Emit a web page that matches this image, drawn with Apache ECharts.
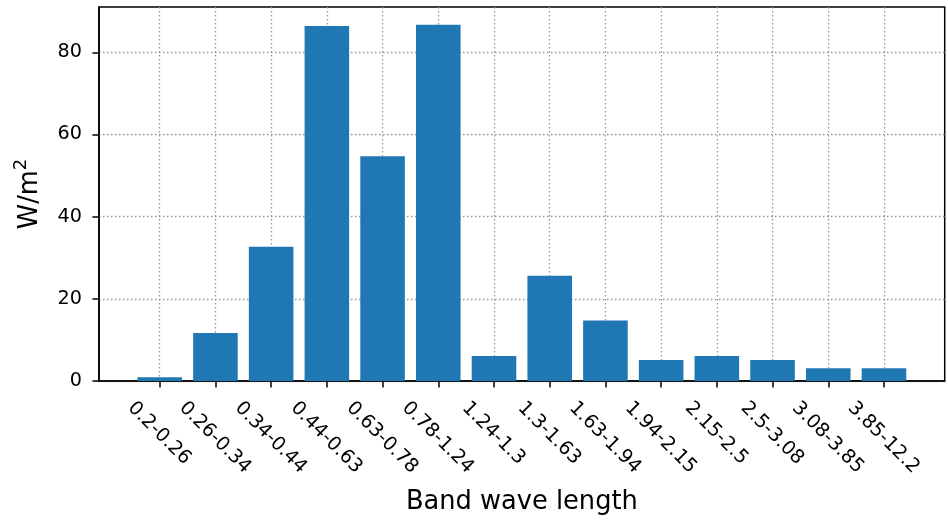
<!DOCTYPE html>
<html>
<head>
<meta charset="utf-8">
<script src="https://cdn.jsdelivr.net/npm/echarts@6/dist/echarts.min.js"></script>
<style>
html,body{margin:0;padding:0;background:#fff;}
#chart{width:948px;height:520px;}
</style>
</head>
<body>
<div id="chart"></div>
<script>
// ---- data ----
const categories = ['0.2-0.26','0.26-0.34','0.34-0.44','0.44-0.63','0.63-0.78','0.78-1.24','1.24-1.3','1.3-1.63','1.63-1.94','1.94-2.15','2.15-2.5','2.5-3.08','3.08-3.85','3.85-12.2'];
const values = [0.9, 11.7, 32.7, 86.4, 54.7, 86.7, 6.1, 25.6, 14.7, 5.1, 6.1, 5.1, 3.1, 3.1];
const yTicks = [0, 20, 40, 60, 80];
const xTitle = 'Band wave length';

// ---- helpers ----
const FONT = '"DejaVu Sans", sans-serif';
const LABEL_SIZE = 19.2;
const TITLE_SIZE = 25.7;
const measureCtx = document.createElement('canvas').getContext('2d');
measureCtx.font = LABEL_SIZE + 'px ' + FONT;
function textWidth(t){ return measureCtx.measureText(t).width; }

const xIdx = categories.map((c, i) => i);
const barData = values.map((v, i) => [i, v]);
const labelData = categories.map((c, i) => [i, 0]);
const xMin = -0.4 - 0.05 * (categories.length - 1 + 0.8);
const xMax = categories.length - 1 + 0.4 + 0.05 * (categories.length - 1 + 0.8);
const yMax = Math.max(...values) * 1.05;

const gridLine = { show: true, lineStyle: { color: '#959595', width: 1.3, type: [1.5, 2.5] } };

const chart = echarts.init(document.getElementById('chart'), null, { renderer: 'canvas' });
chart.setOption({
  animation: false,
  backgroundColor: '#fff',
  grid: { left: 99, right: 3.3, top: 7, bottom: 136, show: true, borderColor: '#000', borderWidth: 1.5, backgroundColor: 'transparent' },
  xAxis: {
    type: 'value', min: xMin, max: xMax,
    name: xTitle, nameLocation: 'middle', nameGap: 108,
    nameTextStyle: { fontSize: TITLE_SIZE, fontFamily: FONT, color: '#000' },
    axisLine: { show: true, onZero: false, lineStyle: { color: '#000', width: 1.5 } },
    axisTick: { show: true, length: 6.6, lineStyle: { color: '#000', width: 1.5 }, customValues: xIdx },
    axisLabel: { show: false, customValues: xIdx },
    splitLine: gridLine
  },
  yAxis: {
    type: 'value', min: 0, max: yMax,
    name: '{a|W/m}{s|2}', nameLocation: 'middle', nameGap: 51, nameRotate: 90,
    nameTextStyle: {
      fontFamily: FONT, color: '#000',
      rich: {
        a: { fontSize: TITLE_SIZE, fontFamily: FONT, color: '#000', lineHeight: 36 },
        s: { fontSize: 18, fontFamily: FONT, color: '#000', verticalAlign: 'top', lineHeight: 18 }
      }
    },
    axisLine: { show: true, onZero: false, lineStyle: { color: '#000', width: 1.5 } },
    axisTick: { show: true, length: 6.6, lineStyle: { color: '#000', width: 1.5 }, customValues: yTicks },
    axisLabel: { show: true, customValues: yTicks, fontSize: LABEL_SIZE, fontFamily: FONT, color: '#000', margin: 17 },
    splitLine: gridLine
  },
  series: [
    {
      type: 'bar', data: barData, barWidth: '80%',
      itemStyle: { color: '#1f77b4' }, z: 3
    },
    {
      type: 'custom', data: labelData, silent: true, z: 10, clip: false,
      encode: { x: 0, y: 1 },
      renderItem: function (params, api) {
        const i = api.value(0);
        const p = api.coord([i, 0]);
        const t = categories[i];
        const L = textWidth(t);
        return {
          type: 'text',
          x: p[0] - 0.3536 * L - 0.5,
          y: p[1] + 24,
          rotation: -Math.PI / 4,
          style: { text: t, fill: '#000', fontSize: LABEL_SIZE, fontFamily: FONT, align: 'left', verticalAlign: 'middle' }
        };
      }
    }
  ]
});
</script>
</body>
</html>
